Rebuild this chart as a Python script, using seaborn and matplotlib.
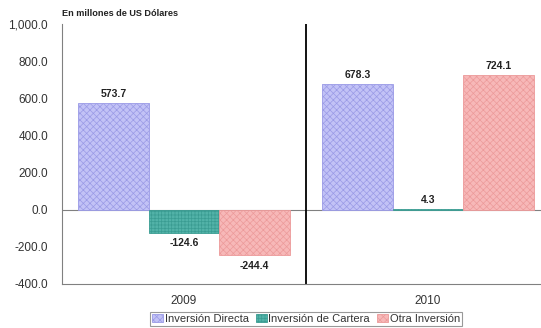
import matplotlib
matplotlib.use("Agg")
import matplotlib.pyplot as plt
import seaborn as sns
import pandas as pd
from matplotlib.ticker import FuncFormatter
from matplotlib.patches import Patch

years = ["2009", "2010"]
series = ["Inversión Directa", "Inversión de Cartera", "Otra Inversión"]
directa = [573.7, 678.3]
cartera = [-124.6, 4.3]
otra = [-244.4, 724.1]

rows = []
for name, vals in zip(series, [directa, cartera, otra]):
    for y, v in zip(years, vals):
        rows.append({"Año": y, "Serie": name, "Valor": v})
df = pd.DataFrame(rows)

faces = ["#c2c2f6", "#52b2a8", "#f7b8b8"]
hatch_cols = ["#9a9ae6", "#3a9c92", "#ec9a9a"]
hatches = ["xxxxx", "+++++", "xxxxx"]

sns.set_theme(style="white")
plt.rcParams["font.family"] = ["Liberation Sans", "DejaVu Sans"]
plt.rcParams["hatch.linewidth"] = 0.5

fig = plt.figure(figsize=(5.41, 3.28), dpi=100)
ax = fig.add_axes([62 / 541, 1 - 284 / 328, 488 / 541, 260 / 328])

sns.barplot(data=df, x="Año", y="Valor", hue="Serie", hue_order=series,
            order=years, palette=faces, width=0.865, ax=ax, legend=False,
            saturation=1)

for cont, fc, hc, h, vals in zip(ax.containers, faces, hatch_cols, hatches,
                                 [directa, cartera, otra]):
    for patch, v in zip(cont, vals):
        patch.set_facecolor(fc)
        patch.set_edgecolor(hc)
        patch.set_hatch(h)
        patch.set_linewidth(0.6)
        x = patch.get_x() + patch.get_width() / 2
        if v >= 0:
            ax.annotate(f"{v:.1f}", (x, v), xytext=(0, 3), textcoords="offset points",
                        ha="center", va="bottom", fontsize=7.5, fontweight="bold",
                        color="#222222")
        else:
            ax.annotate(f"{v:.1f}", (x, v), xytext=(0, -4), textcoords="offset points",
                        ha="center", va="top", fontsize=7.5, fontweight="bold",
                        color="#222222")

ax.set_xlim(-0.5, 1.5)
ax.set_ylim(-400, 1000)
ax.set_yticks([-400, -200, 0, 200, 400, 600, 800, 1000])
ax.yaxis.set_major_formatter(FuncFormatter(lambda v, p: f"{v:,.1f}"))
ax.tick_params(axis="y", labelsize=8.5, length=0, pad=10, labelcolor="#333333")
ax.tick_params(axis="x", labelsize=8.5, length=0, pad=8, labelcolor="#333333")
ax.set_xlabel("")
ax.set_ylabel("")

ax.axhline(0, color="#808080", lw=0.8, zorder=0.5)
ax.axvline(0.5, color="black", lw=1.3)

for s in ["top", "right"]:
    ax.spines[s].set_visible(False)
for s in ["left", "bottom"]:
    ax.spines[s].set_color("#808080")
    ax.spines[s].set_linewidth(0.8)

fig.text(62 / 541, 1 - 14 / 328, "En millones de US Dólares", fontsize=6.6,
         fontweight="bold", va="center", ha="left", color="#222222")

handles = [Patch(facecolor=fc, edgecolor=hc, hatch=h, linewidth=0.6)
           for fc, hc, h in zip(faces, hatch_cols, hatches)]
leg = fig.legend(handles, series, loc="center", bbox_to_anchor=(306 / 541, 1 - 319 / 328),
                 ncol=3, fontsize=8, frameon=True, fancybox=False, handlelength=1.0,
                 handleheight=0.7, handletextpad=0.15, columnspacing=0.6,
                 borderpad=0.2, borderaxespad=0)
leg.get_frame().set_edgecolor("#808080")
leg.get_frame().set_linewidth(0.8)
for t in leg.get_texts():
    t.set_color("#333333")

fig.savefig("out.png", dpi=100)
